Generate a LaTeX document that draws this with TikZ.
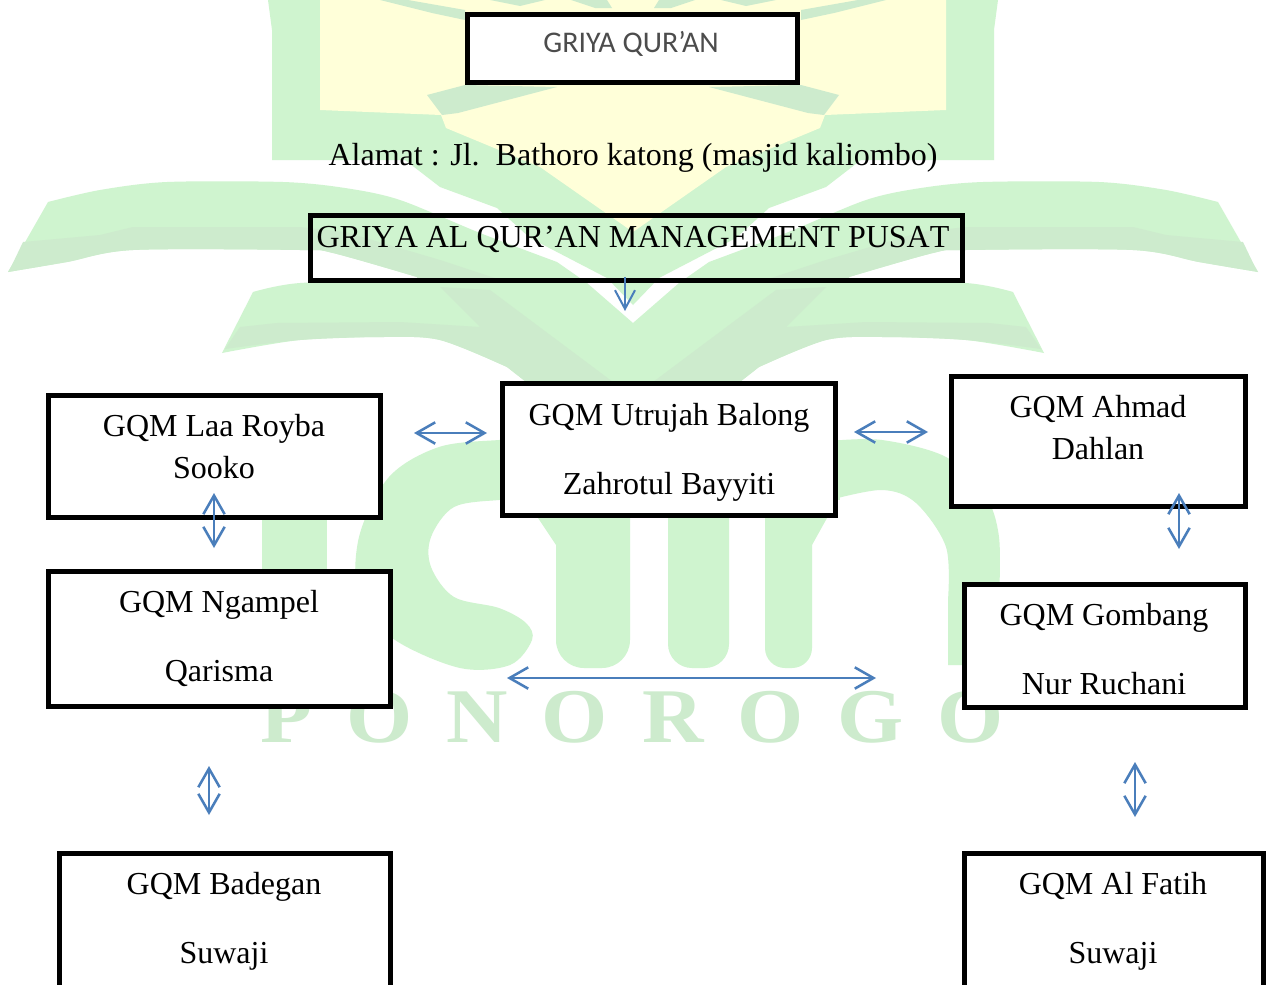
\documentclass[tikz,border=0pt]{standalone}
\usepackage{fontspec}
\setmainfont{Liberation Serif}
\newfontfamily\calib{Carlito}
\usetikzlibrary{arrows.meta}
\definecolor{wgreen}{HTML}{CFF4CF}
\definecolor{wdark}{HTML}{CDEBCD}
\definecolor{wyellow}{HTML}{FFFFD9}
\definecolor{linkblue}{HTML}{4A7EBB}
\tikzset{
  x=0.75pt,y=-0.75pt,
  boxed/.style={draw=black,rectangle,line width=3.4pt,inner sep=0pt},
  whitebox/.style={boxed,fill=white},
  label text/.style={align=center,inner sep=0pt,font=\fontsize{24}{31.5}\selectfont},
  wide text/.style={align=center,inner sep=0pt,font=\fontsize{24}{51.75}\selectfont},
  link/.style={draw=linkblue,line width=1.9pt,{Straight Barb[length=14pt,width=16pt,line width=1.9pt]}-{Straight Barb[length=14pt,width=16pt,line width=1.9pt]}},
  linkdown/.style={draw=linkblue,line width=1.5pt,-{Straight Barb[length=14pt,width=15pt,line width=1.5pt]}},
}
\newcommand{\gbox}[6]{\node[#1,minimum width={(#5-#3-4.5)*0.75pt},minimum height={(#6-#4-4.5)*0.75pt}] (#2) at ({(#3+#5)/2},{(#4+#6)/2}) {};}
\newcommand{\halfmark}{%
  % frame / kite
  \fill[wgreen] (268,0) -- (272,30) -- (272,160) -- (405,160) -- (440,187) -- (497,208) -- (530,238) -- (607,278) -- (633,305) -- (633,0) -- cycle;
  % yellow
  \fill[wyellow] (320,0) -- (320,110) -- (441,115) -- (446,128) -- (540,167) -- (633,232) -- (633,0) -- cycle;
  % dark wedges
  \fill[wdark] (427,95) -- (442,115) -- (458,113) -- (557,87) -- (465,85) -- cycle;
  \fill[wdark] (380,0) -- (432,13) -- (465,20) -- (465,10) -- (408,0) -- cycle;
  \fill[wdark] (571,0) -- (595,8) -- (612,8) -- (607,0) -- cycle;
  \fill[wdark] (490,0) -- (520,6) -- (545,0) -- cycle;
  % upper wing
  \fill[wgreen] (8,272) -- plot[smooth,tension=.5] coordinates {(48,202) (100,190) (167,182) (283,182) (345,188) (400,200) (480,233) (557,262)} -- (587,283) -- (417,280) -- plot[smooth,tension=.5] coordinates {(417,277) (333,253) (300,250) (133,250) (67,262) (8,272)} -- cycle;
  \fill[wdark] (12,265) -- (23,242) -- (100,235) -- (133,227) -- (300,227) -- (345,232) -- (440,260) -- (510,283) -- (417,280) -- plot[smooth,tension=.5] coordinates {(417,277) (333,253) (300,250) (133,250) (67,262) (8,272)} -- cycle;
  % lower wing
  \fill[wgreen] (222,353) -- plot[smooth,tension=.5] coordinates {(253,292) (300,283) (417,280)} -- (587,283) -- (633,323) -- (633,385) -- (530,385) -- plot[smooth,tension=.5] coordinates {(507,367) (440,340) (383,337) (300,340) (222,353)} -- cycle;
  \fill[wdark] (225,349) -- (240,327) -- (277,323) -- (400,322) -- (480,327) -- (440,287) -- (490,290) -- (617,385) -- (530,385) -- plot[smooth,tension=.5] coordinates {(507,367) (440,340) (383,337) (300,340) (225,349)} -- cycle;
}
\begin{document}
\begin{tikzpicture}
\useasboundingbox (0,0) rectangle (1268,985);
\clip (0,0) rectangle (1268,985);
% ---- watermark
\fill[white] (0,0) rectangle (1268,985);
\halfmark
\begin{scope}[xshift=949.5pt,xscale=-1]
\halfmark
\end{scope}
\fill[wgreen] (262,440) rectangle (327,700);
% s
\fill[wgreen] plot[smooth,tension=.55] coordinates {(520,440) (499,440) (439,447) (389,477) (359,537) (359,600) (395,640) (460,668) (510,665) (532,640) (526,623) (499,608) (454,597) (431,567) (431,537) (454,507) (499,500) (520,500)} -- cycle;
% m
\fill[wgreen] (520,440) rectangle (840,500);
\fill[wgreen] (530,495) -- (538,518) -- (556,545) -- (570,495) -- cycle;
\fill[wgreen] (840,495) -- (827,518) -- (812,545) -- (790,495) -- cycle;
\fill[wgreen,rounded corners=21pt] (556,490) rectangle (630,668);
\fill[wgreen,rounded corners=18pt] (668,490) rectangle (729,668);
\fill[wgreen,rounded corners=15pt] (765,490) rectangle (812,668);
\fill[wgreen] plot[smooth,tension=.55] coordinates {(830,441) (882,440) (946,457) (985,495) (999,537) (999,600)} -- (999,665) -- (948,665) -- plot[smooth,tension=.55] coordinates {(948,600) (946,547) (916,503) (882,490) (830,500)} -- cycle;
\node[text=wdark,inner sep=0pt,anchor=base west,xscale=1.1,font=\fontsize{58}{58}\selectfont\bfseries\addfontfeature{LetterSpace=40}] (ponorogo) at (260,742) {PONOROGO};
% ---- boxes
\gbox{whitebox}{griya}{465}{12}{800}{85}
\gbox{boxed}{pusat}{308}{213}{965}{283}
\gbox{whitebox}{laa}{46}{393}{383}{520}
\gbox{whitebox}{utrujah}{500}{381}{838}{518}
\gbox{whitebox}{ahmad}{949}{374}{1248}{509}
\gbox{whitebox}{ngampel}{46}{569}{393}{709}
\gbox{whitebox}{gombang}{962}{582}{1248}{710}
\gbox{whitebox}{badegan}{57}{851}{393}{1040}
\gbox{whitebox}{fatih}{962}{851}{1266}{1040}
% ---- texts
\node[inner sep=0pt,anchor=base,text=black!70,font=\calib\fontsize{22.5}{22.5}\selectfont] (t0) at (631,52) {GRIYA QUR’AN};
\node[inner sep=0pt,anchor=base,font=\fontsize{24}{24}\selectfont] (alamat) at (633,165) {Alamat : Jl.\ \ Bathoro katong (masjid kaliombo)};
\node[inner sep=0pt,anchor=base,font=\fontsize{24}{24}\selectfont\addfontfeature{Kerning=Off}] (t1) at (633,247) {GRIYA AL QUR’AN MANAGEMENT PUSAT};
\node[label text] (t2) at (214,447) {GQM Laa Royba\\Sooko};
\node[wide text] (t3) at (669,452) {GQM Utrujah Balong\\Zahrotul Bayyiti};
\node[label text] (t4) at (1098,428) {GQM Ahmad\\Dahlan};
\node[wide text] (t5) at (219,638) {GQM Ngampel\\Qarisma};
\node[wide text] (t6) at (1104,649) {GQM Gombang\\Nur Ruchani};
\node[wide text] (t7) at (224,921) {GQM Badegan\\Suwaji};
\node[wide text] (t8) at (1113,921) {GQM Al Fatih\\Suwaji};
% ---- connectors
\coordinate (a1) at (414,433); \coordinate (a2) at (487,433);
\coordinate (b1) at (854,432); \coordinate (b2) at (928,432);
\coordinate (c1) at (507,678); \coordinate (c2) at (876,678);
\coordinate (d1) at (214,493); \coordinate (d2) at (214,548);
\coordinate (e1) at (209,766); \coordinate (e2) at (209,815);
\coordinate (f1) at (1179,493); \coordinate (f2) at (1179,549);
\coordinate (g1) at (1135,762); \coordinate (g2) at (1135,817);
\coordinate (h1) at (625,277); \coordinate (h2) at (625,311);
\draw[link] (a1) -- (a2);
\draw[link] (b1) -- (b2);
\draw[link] (c1) -- (c2);
\draw[link] (d1) -- (d2);
\draw[link] (e1) -- (e2);
\draw[link] (f1) -- (f2);
\draw[link] (g1) -- (g2);
\draw[linkdown] (h1) -- (h2);
\end{tikzpicture}
\end{document}
